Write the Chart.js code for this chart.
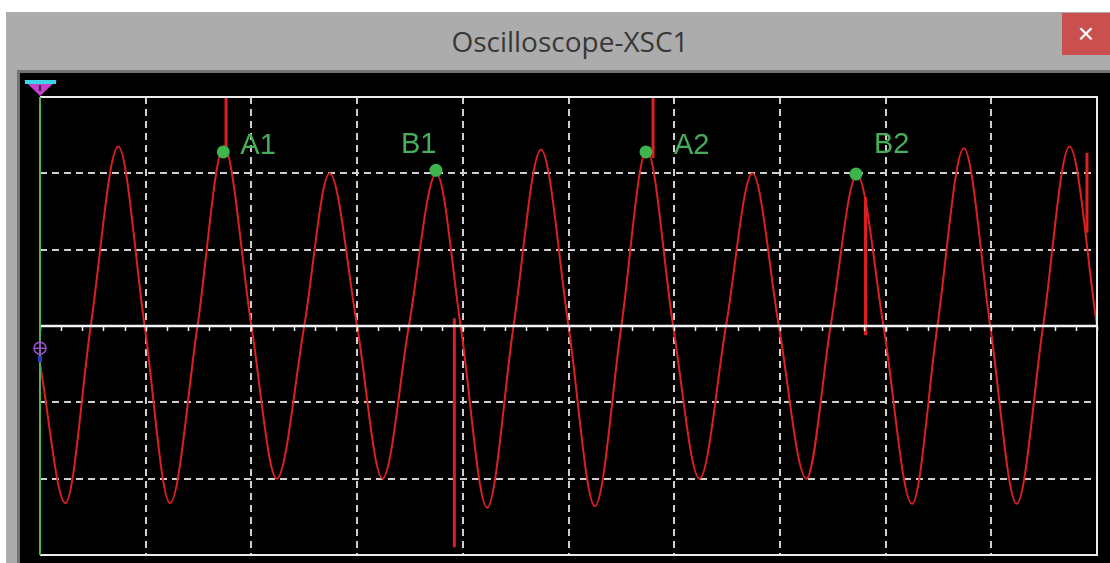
<!DOCTYPE html>
<html>
<head>
<meta charset="utf-8">
<title>Oscilloscope-XSC1</title>
<script src="https://cdn.jsdelivr.net/npm/chart.js@4/dist/chart.umd.min.js"></script>
<style>
  html, body { margin: 0; padding: 0; background: #ffffff; }
  body { width: 1110px; height: 563px; position: relative; overflow: hidden; }
  #win { position: absolute; left: 6px; top: 12px; right: 0; bottom: 0; background: #acacac; }
  #title { position: absolute; left: 0; top: 26px; width: 1140px; text-align: center;
           font-family: "Open Sans", sans-serif; font-size: 28px; line-height: 30px; color: #383838; }
  #close { position: absolute; left: 1062px; top: 13px; width: 48px; height: 42px; background: #c9504f;
           color: #ffffff; font-family: "Liberation Sans", sans-serif; font-size: 28px; line-height: 42px; text-align: center; }
  #frame { position: absolute; left: 17px; top: 70px; right: 0; bottom: 0; background: #000000;
           border-left: 3px solid #737373; border-top: 3px solid #737373; }
  #scope { position: absolute; left: 20px; top: 73px; }
</style>
</head>
<body>
<div id="win"></div>
<div id="title">Oscilloscope-XSC1</div>
<div id="close">×</div>
<div id="frame"></div>
<canvas id="scope" width="1090" height="490"></canvas>
<script>
// Channel A trace, in screen divisions (time across, volts up)
const chATime = [0, 0.24, 0.48, 0.74, 0.99, 1.23, 1.49, 1.74, 2.00, 2.24, 2.50, 2.74, 3.00, 3.24, 3.49,
                 3.75, 3.98, 4.23, 4.48, 4.74, 5.00, 5.25, 5.50, 5.74, 5.99, 6.24, 6.49, 6.74, 6.99, 7.25,
                 7.48, 7.73, 7.98, 8.25, 8.49, 8.74, 8.99, 9.24, 9.49, 9.74, 10.0];
const chAVolt = [-0.5, -2.32, 0, 2.35, 0, -2.32, 0, 2.35, 0, -2.0, 0, 2.0, 0, -2.0, 0,
                 2.0, 0, -2.38, 0, 2.31, 0, -2.36, 0, 2.31, 0, -2.0, 0, 2.0, 0, -2.0,
                 0, 1.98, 0, -2.33, 0, 2.33, 0, -2.33, 0, 2.35, 0];

// Glitch spikes on channel A (pairs; null breaks the line)
const spikeTime = [1.76, 1.76, null, 3.92, 3.92, null, 5.80, 5.80, null, 7.81, 7.81, null, 9.905, 9.905];
const spikeVolt = [2.3, 3.0, null, 0.1, -2.9, null, 3.0, 2.2, null, 1.69, -0.12, null, 2.27, 1.22];

// Channel B rests on the centre line
const chBTime = [0, 10];
const chBVolt = [0, 0];

// Readout cursors
const cursorNames = ['A1', 'B1', 'A2', 'B2'];
const cursorTime = [1.734, 3.746, 5.733, 7.72];
const cursorVolt = [2.28, 2.04, 2.28, 1.99];

// Screen extent in divisions
const timeRange = [0, 10];
const voltRange = [-3, 3];
// Channel A position marker on the left edge
const chAMarkerLevel = -0.29;

const toXY = (xs, ys) => xs.map((x, i) => ({ x: x === null ? NaN : x, y: ys[i] }));

const GRID = '#cfcfcf';
const RED = '#dd1f22';
const GREEN = '#3db54c';

function gridColor(edgeValues) {
  return ctx => (ctx.tick && edgeValues.includes(ctx.tick.value)) ? 'rgba(0,0,0,0)' : GRID;
}

const framePlugin = {
  id: 'scopeFrame',
  afterDatasetsDraw(chart) {
    const { ctx, chartArea: a, scales } = chart;
    ctx.save();
    // minor ticks hanging below the centre line
    const minor = scales.xMinor;
    const cy = Math.round(scales.y.getPixelForValue(0));
    ctx.strokeStyle = '#f0f0f0';
    ctx.lineWidth = 1.5;
    ctx.beginPath();
    minor.ticks.forEach(t => {
      const x = Math.round(minor.getPixelForValue(t.value)) + 0.5;
      ctx.moveTo(x, cy); ctx.lineTo(x, cy + 5);
    });
    ctx.stroke();

    ctx.lineWidth = 2;
    ctx.strokeStyle = '#ececec';
    ctx.beginPath();
    ctx.moveTo(a.left, a.top); ctx.lineTo(a.right, a.top);
    ctx.lineTo(a.right, a.bottom); ctx.lineTo(a.left, a.bottom);
    ctx.stroke();
    // left edge / time cursor line
    ctx.strokeStyle = '#4fae55';
    ctx.beginPath();
    ctx.moveTo(a.left, a.top); ctx.lineTo(a.left, a.bottom);
    ctx.stroke();
    // trigger cursor flag above the screen
    const cx = scales.x.getPixelForValue(timeRange[0]);
    ctx.beginPath();
    ctx.moveTo(cx - 16, a.top - 17); ctx.lineTo(cx + 17, a.top - 17); ctx.lineTo(cx, a.top - 1);
    ctx.closePath();
    ctx.fillStyle = '#c93fd0';
    ctx.fill();
    ctx.fillStyle = '#3fd3e6';
    ctx.fillRect(cx - 15, a.top - 17, 31, 4);
    ctx.fillStyle = '#2a2a2a';
    ctx.fillRect(cx - 1, a.top - 12, 2, 6);
    // channel A position marker
    const my = scales.y.getPixelForValue(chAMarkerLevel);
    ctx.strokeStyle = '#9b4fd0';
    ctx.lineWidth = 1.5;
    ctx.beginPath(); ctx.arc(a.left, my, 6, 0, Math.PI * 2); ctx.stroke();
    ctx.beginPath();
    ctx.moveTo(a.left - 6, my); ctx.lineTo(a.left + 6, my);
    ctx.moveTo(a.left, my - 6); ctx.lineTo(a.left, my + 6);
    ctx.stroke();
    ctx.fillStyle = '#2040c0';
    ctx.fillRect(a.left - 2, my + 8, 4, 6);
    ctx.restore();
  }
};

const labelPlugin = {
  id: 'cursorLabels',
  afterDatasetsDraw(chart, args, opts) {
    const { ctx, scales } = chart;
    ctx.save();
    ctx.font = '29px "Liberation Sans", Arial, sans-serif';
    ctx.fillStyle = opts.color;
    ctx.textBaseline = 'alphabetic';
    cursorNames.forEach((name, i) => {
      const px = scales.x.getPixelForValue(cursorTime[i]);
      const py = scales.y.getPixelForValue(cursorVolt[i]);
      const [dx, dy] = opts.offsets[i];
      ctx.fillText(name, px + dx, py + dy);
    });
    ctx.restore();
  }
};

new Chart(document.getElementById('scope'), {
  type: 'line',
  data: {
    datasets: [
      {
        label: 'Cursors',
        data: toXY(cursorTime, cursorVolt),
        showLine: false,
        pointRadius: 6.5,
        pointHoverRadius: 6.5,
        pointBackgroundColor: GREEN,
        pointBorderWidth: 0
      },
      {
        label: 'Channel B',
        data: toXY(chBTime, chBVolt),
        borderColor: '#f4f4f4',
        borderWidth: 2.5,
        pointRadius: 0
      },
      {
        label: 'Glitches',
        data: toXY(spikeTime, spikeVolt),
        borderColor: RED,
        borderWidth: 3,
        tension: 0,
        spanGaps: false,
        pointRadius: 0
      },
      {
        label: 'Channel A',
        data: toXY(chATime, chAVolt),
        borderColor: RED,
        borderWidth: 2,
        cubicInterpolationMode: 'monotone',
        pointRadius: 0
      }
    ]
  },
  options: {
    responsive: false,
    animation: false,
    devicePixelRatio: 1,
    layout: { padding: { left: 20, top: 24, right: 13, bottom: 8 } },
    plugins: {
      legend: { display: false },
      tooltip: { enabled: false },
      title: { display: false },
      cursorLabels: {
        color: '#46ad5a',
        offsets: [[17, 2], [-35, -17], [28, 2], [18, -21]]
      }
    },
    scales: {
      x: {
        type: 'linear', min: timeRange[0], max: timeRange[1],
        ticks: { display: false, stepSize: 1 },
        grid: { color: gridColor(timeRange), lineWidth: 2, drawTicks: false },
        border: { display: false, dash: [7, 5] }
      },
      xMinor: {
        type: 'linear', axis: 'x', position: { y: 0 }, min: timeRange[0], max: timeRange[1],
        ticks: { display: false, stepSize: 0.2 },
        grid: { display: false, drawOnChartArea: false, drawTicks: false },
        border: { display: false }
      },
      y: {
        type: 'linear', min: voltRange[0], max: voltRange[1],
        ticks: { display: false, stepSize: 1 },
        grid: { color: gridColor([voltRange[0], 0, voltRange[1]]), lineWidth: 2, drawTicks: false },
        border: { display: false, dash: [7, 5] }
      }
    }
  },
  plugins: [framePlugin, labelPlugin]
});
</script>
</body>
</html>
